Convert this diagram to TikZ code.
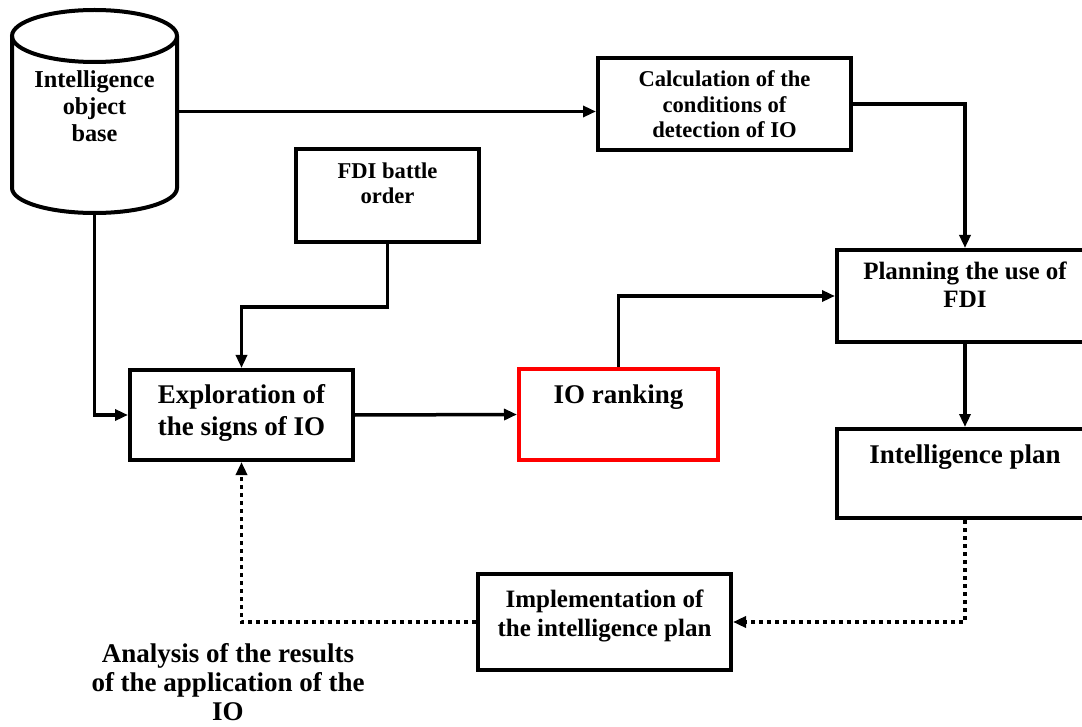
\documentclass[tikz,border=0pt]{standalone}
\usepackage{fontspec}
\setmainfont{Liberation Serif}
\usetikzlibrary{arrows.meta}

\tikzset{
  box/.style={draw, line width=4pt, align=center, inner sep=0pt},
  flow/.style={line width=3.5pt, -{Triangle[length=13pt,width=11pt]}},
  feedback/.style={flow, dash pattern=on 4pt off 4pt},
}
\newcommand{\bigtxt}{\fontsize{27}{32}\selectfont\bfseries}
\newcommand{\midtxt}{\fontsize{25}{28.5}\selectfont\bfseries}
\newcommand{\smalltxt}{\fontsize{22.6}{25.5}\selectfont\bfseries}

\begin{document}
\begin{tikzpicture}[x=1pt,y=1pt]
    \useasboundingbox (0,0) rectangle (1082,-727);

    % object base (cylinder)
    \node (base) [minimum width=165pt, minimum height=203pt, inner sep=0pt, align=center,
        text height=66pt, text depth=5pt, font=\fontsize{24.3}{27}\selectfont\bfseries]
        at (94.5,-111.5) {Intelligence\\object\\base};
    \draw[line width=4pt] (94.5,-36) ellipse [x radius=82.5, y radius=26];
    \draw[line width=4pt] (12,-36) -- (12,-188)
        arc [start angle=180, end angle=360, x radius=82.5, y radius=25] -- (177,-36);

    % boxes
    \node (calc) [box, minimum width=253pt, minimum height=92pt, text height=73pt, text depth=5pt,
        font=\smalltxt] at (724.5,-104) {Calculation of the\\conditions of\\detection of IO};
    \node (fdi) [box, minimum width=183pt, minimum height=93pt, text height=22pt, text depth=5pt,
        font=\smalltxt] at (387.5,-195.5) {FDI battle\\order};
    \node (plan) [box, minimum width=256pt, minimum height=92pt, text height=29pt, text depth=5pt,
        font=\midtxt] at (965,-296) {Planning the use of\\FDI};
    \node (explore) [box, minimum width=223pt, minimum height=90pt, text height=45pt, text depth=5pt,
        font=\bigtxt] at (241.5,-415) {Exploration of\\the signs of IO};
    \node (rank) [box, draw=red, minimum width=199pt, minimum height=91pt, text height=19pt, text depth=42pt,
        font=\bigtxt] at (618.5,-414.5) {IO ranking};
    \node (intel) [box, minimum width=256pt, minimum height=89pt, text height=19pt, text depth=40pt,
        font=\bigtxt] at (965,-473.5) {Intelligence plan};
    \node (impl) [box, minimum width=253pt, minimum height=96pt, text height=33pt, text depth=5pt,
        font=\midtxt] at (604.5,-622) {Implementation of\\the intelligence plan};

    % analysis label
    \node (result) [align=center, inner sep=0pt, text height=63pt, text depth=5pt,
        font=\fontsize{27}{29}\selectfont\bfseries] at (228,-691)
        {Analysis of the results\\of the application of the\\IO};

    % arrows
    \draw[flow] (base.east) -- (base.east -| calc.west);
    \draw[flow] (calc.east) -| (plan.north);
    \draw[flow] (base.south) |- (explore.west);
    \draw[flow] (fdi.south) -- ++(0,-63) -| (explore.north);
    \draw[flow] (explore.east) -- (rank.west);
    \draw[flow] (rank.north) |- (plan.west);
    \draw[flow] (plan.south) -- (intel.north);

    % feedback loop
    \draw[feedback] (intel.south) |- (impl.east);
    \draw[feedback] (impl.west) -| (explore.south);
\end{tikzpicture}
\end{document}
